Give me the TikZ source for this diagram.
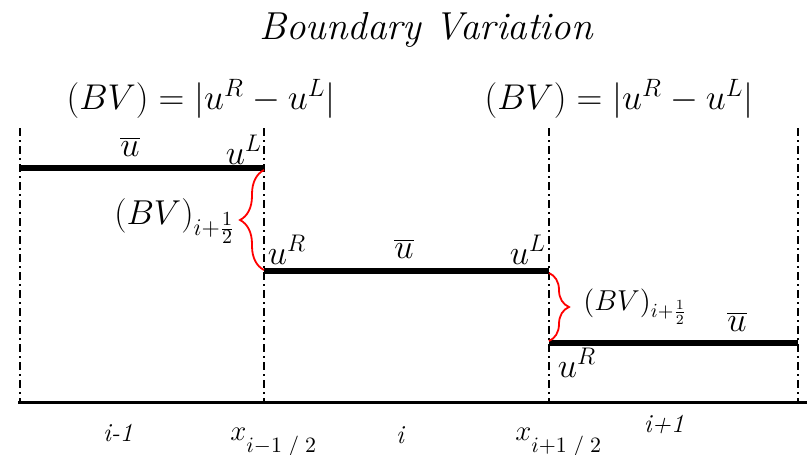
\RequirePackage{fix-cm}
\documentclass[tikz,border=0pt]{standalone}
\usetikzlibrary{decorations.pathreplacing}
\begin{document}
\begin{tikzpicture}[x=0.5pt,y=-0.5pt,
  cellline/.style={line width=1pt, dash pattern=on 4pt off 2pt on 1pt off 2pt},
  avgline/.style={line width=3pt},
  axisline/.style={line width=1.5pt},
  bvbrace/.style={red, line width=0.9pt, decorate, decoration={brace, amplitude=12pt}},
  lbl/.style={inner sep=0pt, font=\fontsize{17.28}{19}\selectfont},
  ubar/.style={inner sep=0pt, font=\fontsize{17.28}{20}\selectfont},
  big/.style={inner sep=0pt, font=\fontsize{17.9}{21}\selectfont},
  bvlbl/.style={inner sep=0pt, font=\fontsize{17.28}{19}\selectfont},
  axlbl/.style={inner sep=0pt, font=\fontsize{13}{16}\selectfont}]
\useasboundingbox (0,0) rectangle (809,455);

% title and formulas
\node[inner sep=0pt, font=\fontsize{19.5}{23}\selectfont\itshape] (title) at (426,30) {Boundary Variation};
\node[big] (f1) at (201,99) {$(BV)=\Bigl|u^{R}-u^{L}\Bigr|$};
\node[big] (f2) at (619,99) {$(BV)=\Bigl|u^{R}-u^{L}\Bigr|$};

% cell interfaces
\coordinate (v1t) at (20,128);  \coordinate (v1b) at (20,402);
\coordinate (v2t) at (264,128); \coordinate (v2b) at (264,402);
\coordinate (v3t) at (549,128); \coordinate (v3b) at (549,402);
\coordinate (v4t) at (798,128); \coordinate (v4b) at (798,402);
\draw[cellline] (v1t) -- (v1b);
\draw[cellline] (v2t) -- (v2b);
\draw[cellline] (v3t) -- (v3b);
\draw[cellline] (v4t) -- (v4b);

% axis
\coordinate (a0) at (18,402); \coordinate (a1) at (807,402);
\draw[axisline] (a0) -- (a1);

% cell averages
\coordinate (s1a) at (20,168);  \coordinate (s1b) at (264,168);
\coordinate (s2a) at (264,271); \coordinate (s2b) at (549,271);
\coordinate (s3a) at (549,343); \coordinate (s3b) at (798,343);
\draw[avgline] (s1a) -- (s1b);
\draw[avgline] (s2a) -- (s2b);
\draw[avgline] (s3a) -- (s3b);

% braces
\coordinate (b1t) at (264,170); \coordinate (b1b) at (264,270);
\coordinate (b2t) at (549,273); \coordinate (b2b) at (549,341);
\draw[bvbrace] (b1b) -- (b1t);
\draw[bvbrace, decoration={brace, amplitude=10pt}] (b2t) -- (b2b);
\node[bvlbl, anchor=east] (bv1) at (236,221) {$(BV)_{i+\frac{1}{2}}$};
\node[bvlbl, anchor=west, font=\fontsize{14.4}{16}\selectfont] (bv2) at (583,307) {$(BV)_{i+\frac{1}{2}}$};

% labels on the averages
\node[ubar] (ub1) at (130,147) {$\overline{u}$};
\node[lbl] (uL1) at (244,150) {$u^{L}$};
\node[lbl] (uR1) at (287,250) {$u^{R}$};
\node[ubar] (ub2) at (404,249) {$\overline{u}$};
\node[lbl] (uL2) at (528,250) {$u^{L}$};
\node[lbl] (uR2) at (577,363) {$u^{R}$};
\node[ubar] (ub3) at (737,322) {$\overline{u}$};

% axis labels
\node[axlbl, font=\fontsize{13}{16}\selectfont\itshape] (c1) at (118,433) {i-1};
\node[axlbl, anchor=base west] (x1) at (230,440) {\fontsize{14.4}{18}\selectfont$x_{\raisebox{-4pt}{\fontsize{10.95}{12}\selectfont$i{-}1\;/\;2$}}$};
\node[axlbl, font=\fontsize{13}{16}\selectfont\itshape] (c2) at (400,435) {i};
\node[axlbl, anchor=base west] (x2) at (515,440) {\fontsize{14.4}{18}\selectfont$x_{\raisebox{-4pt}{\fontsize{10.95}{12}\selectfont$i{+}1\;/\;2$}}$};
\node[axlbl, font=\fontsize{13}{16}\selectfont\itshape] (c3) at (664,425) {i+1};
\end{tikzpicture}
\end{document}
